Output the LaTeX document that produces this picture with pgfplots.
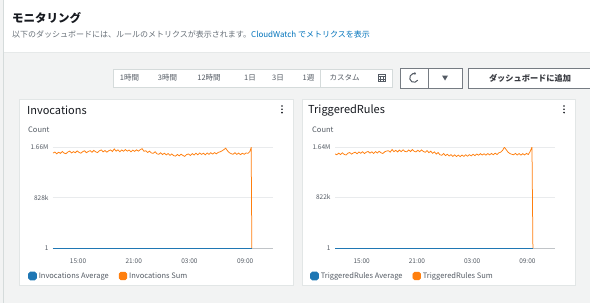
\documentclass[border=0pt]{standalone}
\usepackage{fontspec}
\setmainfont{Noto Sans CJK JP}
\usepackage{pgfplots}
\pgfplotsset{compat=1.18}
\usetikzlibrary{arrows.meta}
\definecolor{bg}{HTML}{F2F3F3}
\definecolor{ink}{HTML}{16191F}
\definecolor{sub}{HTML}{687078}
\definecolor{tickc}{HTML}{545B64}
\definecolor{link}{HTML}{0073BB}
\definecolor{cwblue}{HTML}{1F77B4}
\definecolor{cworange}{HTML}{FF7F0E}
\definecolor{gridc}{HTML}{E9EBED}
\definecolor{borderc}{HTML}{D5DBDB}
\definecolor{axisc}{HTML}{C0C4C8}

\pgfplotstableread{
h v
0.3 1.560
0.5 1.578
0.7 1.548
0.9 1.574
1.1 1.556
1.3 1.586
1.5 1.560
1.7 1.550
1.9 1.578
2.1 1.592
2.3 1.562
2.5 1.584
2.7 1.566
2.9 1.596
3.1 1.572
3.3 1.558
3.5 1.584
3.7 1.598
3.9 1.566
4.1 1.586
4.3 1.600
4.5 1.574
4.7 1.604
4.9 1.580
5.1 1.568
5.3 1.598
5.5 1.612
5.7 1.580
5.9 1.602
6.1 1.574
6.3 1.598
6.5 1.612
6.7 1.586
6.9 1.628
7.1 1.592
7.3 1.614
7.5 1.582
7.7 1.612
7.9 1.590
8.1 1.618
8.3 1.592
8.5 1.610
8.7 1.582
8.9 1.608
9.1 1.588
9.3 1.614
9.5 1.592
9.7 1.616
9.9 1.632
10.1 1.590
10.3 1.598
10.5 1.570
10.7 1.592
10.9 1.562
11.1 1.556
11.3 1.582
11.5 1.548
11.7 1.540
11.9 1.566
12.1 1.536
12.3 1.558
12.5 1.530
12.7 1.552
12.9 1.522
13.1 1.546
13.3 1.518
13.5 1.510
13.7 1.538
13.9 1.514
14.1 1.542
14.3 1.520
14.5 1.506
14.7 1.536
14.9 1.546
15.1 1.520
15.3 1.552
15.5 1.528
15.7 1.558
15.9 1.532
16.1 1.562
16.3 1.538
16.5 1.558
16.7 1.532
16.9 1.562
17.1 1.540
17.3 1.566
17.5 1.544
17.7 1.568
17.9 1.548
18.1 1.572
18.3 1.580
18.5 1.596
18.7 1.616
18.9 1.640
19.1 1.598
19.3 1.566
19.5 1.550
19.7 1.540
19.9 1.566
20.1 1.538
20.3 1.560
20.5 1.534
20.7 1.558
20.9 1.540
21.1 1.562
21.3 1.556
21.5 1.584
21.65 1.650
21.72 0
}\invsum

\pgfplotstableread{
h v
0.1 1.528
0.3 1.514
0.5 1.540
0.7 1.518
0.9 1.546
1.1 1.520
1.3 1.510
1.5 1.540
1.7 1.550
1.9 1.524
2.1 1.544
2.3 1.556
2.5 1.530
2.7 1.560
2.9 1.538
3.1 1.564
3.3 1.534
3.5 1.556
3.7 1.568
3.9 1.540
4.1 1.562
4.3 1.536
4.5 1.566
4.7 1.542
4.9 1.570
5.1 1.546
5.3 1.534
5.5 1.562
5.7 1.574
5.9 1.580
6.1 1.556
6.3 1.600
6.5 1.564
6.7 1.586
6.9 1.560
7.1 1.590
7.3 1.564
7.5 1.594
7.7 1.568
7.9 1.562
8.1 1.592
8.3 1.566
8.5 1.598
8.7 1.570
8.9 1.560
9.1 1.588
9.3 1.564
9.5 1.592
9.7 1.568
9.9 1.554
10.1 1.582
10.3 1.548
10.5 1.572
10.7 1.538
10.9 1.560
11.1 1.526
11.3 1.550
11.5 1.514
11.7 1.506
11.9 1.534
12.1 1.500
12.3 1.522
12.5 1.494
12.7 1.516
12.9 1.488
13.1 1.512
13.3 1.486
13.5 1.508
13.7 1.484
13.9 1.510
14.1 1.488
14.3 1.514
14.5 1.490
14.7 1.516
14.9 1.496
15.1 1.522
15.3 1.500
15.5 1.526
15.7 1.506
15.9 1.532
16.1 1.510
16.3 1.530
16.5 1.508
16.7 1.534
16.9 1.512
17.1 1.536
17.3 1.514
17.5 1.540
17.7 1.518
17.9 1.546
18.1 1.556
18.3 1.584
18.5 1.636
18.7 1.596
18.9 1.556
19.1 1.534
19.3 1.522
19.5 1.514
19.7 1.536
19.9 1.510
20.1 1.534
20.3 1.508
20.5 1.532
20.7 1.512
20.9 1.536
21.1 1.518
21.3 1.566
21.5 1.640
21.6 0
}\trigsum

\pgfplotsset{cw/.style={
  scale only axis, width=220pt, height=101pt, anchor=south west,
  ymin=0, xmax=24,
  xtick={3,9,15,21}, xticklabels={15:00,21:00,03:00,09:00},
  ymajorgrids, major grid style={gridc, line width=0.6pt},
  major tick length=0pt,
  axis x line*=bottom, axis y line*=left,
  x axis line style={-, draw=axisc, line width=0.7pt},
  y axis line style={draw=none},
  tick label style={font=\fontsize{6.5}{8}\selectfont, text=tickc},
  /pgf/number format/assume math mode=true,
  xticklabel style={yshift=-7pt},
  yticklabel style={xshift=-1pt},
  legend columns=2,
  legend cell align=left,
  legend image code/.code={\fill[rounded corners=1.8pt] (0pt,-3.8pt) rectangle (7.6pt,3.8pt);},
  legend style={draw=none, fill=none, inner sep=0pt,
    font=\fontsize{7.5}{9}\selectfont\color{tickc},
    at={(rel axis cs:0,0)}, anchor=west, xshift=-25pt, yshift=-28pt,
    /tikz/every even column/.style={column sep=8pt}},
}}

\begin{document}
\begin{tikzpicture}
\path[use as bounding box, fill=bg] (0pt,0pt) rectangle (590pt,-303pt);
\fill[white] (3pt,0pt) rectangle (590pt,-52pt);
\draw[borderc!60, line width=0.6pt] (3pt,-52pt) -- (590pt,-52pt);
\draw[borderc, line width=0.6pt] (3pt,0pt) -- (3pt,-303pt);

\node[anchor=west, inner sep=0pt, text=ink, font=\fontsize{11.5}{13}\selectfont\bfseries] at (12pt,-18pt) {モニタリング};
\node[anchor=west, inner sep=0pt, text=sub, font=\fontsize{8}{10}\selectfont] at (12pt,-34pt) {以下のダッシュボードには、ルールのメトリクスが表示されます。\textcolor{link}{ CloudWatch でメトリクスを表示}};

% time range selector
\draw[borderc, fill=white, line width=0.6pt] (113pt,-69pt) rectangle (392pt,-87pt);
\draw[borderc, line width=0.6pt] (320pt,-69pt) -- (320pt,-87pt);
\begin{scope}[every node/.style={inner sep=0pt, text=tickc, font=\fontsize{7.5}{9}\selectfont}]
\node at (129.5pt,-78pt) {1時間};
\node at (167.5pt,-78pt) {3時間};
\node at (209pt,-78pt) {12時間};
\node at (250pt,-78pt) {1日};
\node at (278pt,-78pt) {3日};
\node at (308.5pt,-78pt) {1週};
\node at (344.5pt,-78pt) {カスタム};
\end{scope}
\draw[tickc, line width=0.6pt] (378pt,-74.5pt) rectangle (385pt,-81.5pt);
\draw[tickc, line width=0.4pt] (378pt,-76.5pt) -- (385pt,-76.5pt) (378pt,-79pt) -- (385pt,-79pt) (380.3pt,-76.5pt) -- (380.3pt,-81.5pt) (382.7pt,-76.5pt) -- (382.7pt,-81.5pt);

% refresh & dropdown
\draw[tickc!80, fill=white, line width=0.6pt] (400pt,-68pt) rectangle (462pt,-88pt);
\draw[tickc!80, line width=0.6pt] (428pt,-68pt) -- (428pt,-88pt);
\draw[tickc, line width=1pt, -{Latex[length=2.2pt,width=3pt]}] ([shift={(330:4.3pt)}]414pt,-78pt) arc (330:60:4.3pt);
\fill[tickc] (442pt,-75.5pt) -- (448pt,-75.5pt) -- (445pt,-80.5pt) -- cycle;

% add to dashboard
\draw[tickc!80, fill=white, line width=0.6pt] (468pt,-68pt) rectangle (594pt,-88pt);
\node[inner sep=0pt, text=ink!85, font=\fontsize{8.2}{10}\selectfont\bfseries] at (530pt,-78pt) {ダッシュボードに追加};

% panels
\draw[borderc!70, fill=white, line width=0.6pt] (19pt,-99pt) rectangle (293pt,-285pt);
\draw[borderc!70, fill=white, line width=0.6pt] (302pt,-99pt) rectangle (575pt,-285pt);

\node[anchor=west, inner sep=0pt, text=ink, font=\fontsize{11}{13}\selectfont] at (27pt,-110pt) {Invocations};
\node[anchor=west, inner sep=0pt, text=ink, font=\fontsize{11}{13}\selectfont] at (308pt,-110pt) {TriggeredRules};
\foreach \yy in {106,109.3,112.6} {
  \fill[ink] (282pt,-\yy pt) circle (0.9pt);
  \fill[ink] (564pt,-\yy pt) circle (0.9pt);
}
\node[anchor=west, inner sep=0pt, text=tickc, font=\fontsize{7.5}{9}\selectfont] at (28pt,-130pt) {Count};
\node[anchor=west, inner sep=0pt, text=tickc, font=\fontsize{7.5}{9}\selectfont] at (312pt,-130pt) {Count};

\begin{axis}[cw, at={(53pt,-248pt)}, xmin=0.3, ymax=1.66,
  ytick={0,0.828,1.66}, yticklabels={1,828k,1.66M}]
\addplot[cwblue, line width=1pt] coordinates {(0.3,0) (21.72,0)};
\addlegendentry{Invocations Average}
\addplot[cworange, line width=0.75pt] table[x=h, y=v] {\invsum};
\addlegendentry{Invocations Sum}
\end{axis}

\begin{axis}[cw, at={(335pt,-248pt)}, xmin=0.1, ymax=1.64,
  ytick={0,0.822,1.64}, yticklabels={1,822k,1.64M}]
\addplot[cwblue, line width=1pt] coordinates {(0.1,0) (21.6,0)};
\addlegendentry{TriggeredRules Average}
\addplot[cworange, line width=0.75pt] table[x=h, y=v] {\trigsum};
\addlegendentry{TriggeredRules Sum}
\end{axis}
\end{tikzpicture}
\end{document}
